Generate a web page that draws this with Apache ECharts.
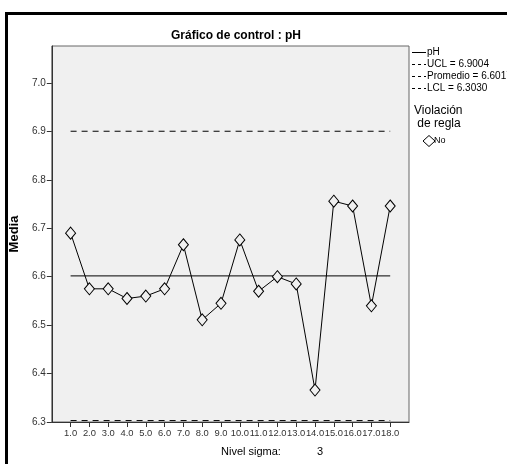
<!DOCTYPE html>
<html><head><meta charset="utf-8">
<script src="https://cdn.jsdelivr.net/npm/echarts@6/dist/echarts.min.js"></script>
<style>html,body{margin:0;padding:0;background:#fff}#c{width:507px;height:464px}</style>
</head><body><div id="c"></div>
<script>
const categories = [1,2,3,4,5,6,7,8,9,10,11,12,13,14,15,16,17,18];
const phValues = [6.690,6.575,6.575,6.555,6.560,6.575,6.666,6.511,6.545,6.676,6.570,6.600,6.585,6.366,6.756,6.746,6.540,6.746];
const UCL = 6.9004, MEAN = 6.6017, LCL = 6.3030;
const yTicks = [6.3,6.4,6.5,6.6,6.7,6.8,6.9,7.0];
const legendLabels = ['pH','UCL = 6.9004','Promedio = 6.6017','LCL = 6.3030'];

const chart = echarts.init(document.getElementById('c'), null, {renderer:'canvas'});
const font = 'Liberation Sans, Arial, sans-serif';
const first = categories[0], last = categories[categories.length-1];
const refLine = (name, v, dash) => ({
  name, type:'line', data:[[first,v],[last,v]], symbol:'none', silent:true,
  lineStyle:{color:'#000', width:1, type: dash ? [6,5] : 'solid'}, z:2
});
chart.setOption({
  animation:false,
  backgroundColor:'#fff',
  title:{text:'Gráfico de control : pH', left:231, top:25, textAlign:'center',
    textStyle:{fontFamily:font, fontSize:12, fontWeight:'bold', color:'#000'}},
  grid:{left:51.5, top:46, width:357.5, height:376, show:true, backgroundColor:'#f0f0f0', borderColor:'#666', borderWidth:1},
  xAxis:{type:'value', min:0, max:19, interval:1,
    axisLine:{lineStyle:{color:'#333'}},
    axisTick:{show:true, length:5, inside:false, customValues:categories, lineStyle:{color:'#333'}},
    axisLabel:{customValues:categories, formatter:v=>v.toFixed(1), fontFamily:font, fontSize:9.4, color:'#333', margin:7,
      hideOverlap:false, showMaxLabel:true, showMinLabel:true},
    splitLine:{show:false}},
  yAxis:{type:'value', min:6.3, max:7.0764, interval:0.1, name:'Media', nameLocation:'middle', nameGap:27, nameRotate:90,
    nameTextStyle:{fontFamily:font, fontSize:13, fontWeight:'bold', color:'#000'},
    axisLine:{show:true, lineStyle:{color:'#333'}},
    axisTick:{show:true, length:5, customValues:yTicks, lineStyle:{color:'#333'}},
    axisLabel:{customValues:yTicks, formatter:v=>v.toFixed(1), fontFamily:font, fontSize:10, color:'#333', margin:6},
    splitLine:{show:false}},
  series:[
    refLine('UCL', UCL, true),
    refLine('Promedio', MEAN, false),
    refLine('LCL', LCL, true),
    {name:'pH', type:'line', data:categories.map((c,i)=>[c,phValues[i]]),
     symbol:'diamond', symbolSize:[10,12], showAllSymbol:true,
     itemStyle:{color:'#f0f0f0', borderColor:'#000', borderWidth:1},
     lineStyle:{color:'#000', width:1}, z:3}
  ],
  graphic:[
    {type:'polyline', shape:{points:[[6.5,464],[6.5,13.5],[507,13.5]]}, style:{stroke:'#000', lineWidth:3, fill:null}},
    {type:'line', shape:{x1:412,y1:52.5,x2:426,y2:52.5}, style:{stroke:'#000', lineWidth:1}},
    {type:'line', shape:{x1:412,y1:64.5,x2:426,y2:64.5}, style:{stroke:'#000', lineWidth:1, lineDash:[3,3]}},
    {type:'line', shape:{x1:412,y1:76.5,x2:426,y2:76.5}, style:{stroke:'#000', lineWidth:1, lineDash:[3,3]}},
    {type:'line', shape:{x1:412,y1:88.5,x2:426,y2:88.5}, style:{stroke:'#000', lineWidth:1, lineDash:[3,3]}},
    {type:'text', left:427, top:47, style:{text:legendLabels[0], font:'10px '+font, fill:'#000'}},
    {type:'text', left:427, top:59, style:{text:legendLabels[1], font:'10px '+font, fill:'#000'}},
    {type:'text', left:427, top:71, style:{text:legendLabels[2], font:'10px '+font, fill:'#000'}},
    {type:'text', left:427, top:83, style:{text:legendLabels[3], font:'10px '+font, fill:'#000'}},
    {type:'text', left:414, top:104, style:{text:'Violación\n de regla', font:'12px '+font, fill:'#000', lineHeight:13}},
    {type:'polygon', shape:{points:[[429,135.5],[435,141],[429,146.5],[423,141]]}, style:{fill:'#fff', stroke:'#000', lineWidth:1}},
    {type:'text', left:434, top:136, style:{text:'No', font:'9px '+font, fill:'#000'}},
    {type:'text', left:221, top:446, style:{text:'Nivel sigma:', font:'11px '+font, fill:'#000'}},
    {type:'text', left:317, top:446, style:{text:'3', font:'11px '+font, fill:'#000'}}
  ]
});
</script></body></html>
